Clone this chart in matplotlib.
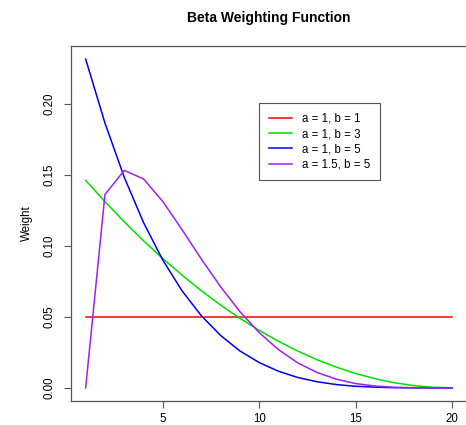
import matplotlib.pyplot as plt
import numpy as np

plt.rcParams['font.family'] = ['Liberation Sans', 'DejaVu Sans']

# lag index 1..20
lags = np.arange(1, 21)

# weights
w_a1_b1 = [0.05] * 20
w_a1_b3 = [0.1462, 0.1312, 0.1170, 0.1036, 0.0911, 0.0794, 0.0684, 0.0583, 0.0490, 0.0405,
           0.0328, 0.0259, 0.0198, 0.0146, 0.0101, 0.0065, 0.0036, 0.0016, 0.0004, 0.0]
w_a1_b5 = [0.2316, 0.1866, 0.1484, 0.1165, 0.0900, 0.0683, 0.0508, 0.0369, 0.0260, 0.0178,
           0.0117, 0.0073, 0.0043, 0.0023, 0.0011, 0.0005, 0.0001, 0.0, 0.0, 0.0]
w_a15_b5 = [0.0, 0.1362, 0.1532, 0.1472, 0.1313, 0.1114, 0.0907, 0.0712, 0.0537, 0.0389,
            0.0269, 0.0176, 0.0108, 0.0061, 0.0030, 0.0013, 0.0004, 0.0001, 0.0, 0.0]

labels = ["a = 1, b = 1", "a = 1, b = 3", "a = 1, b = 5", "a = 1.5, b = 5"]
colors = ["#FF0000", "#00E000", "#0000EE", "#A020F0"]
series = [w_a1_b1, w_a1_b3, w_a1_b5, w_a15_b5]

fig = plt.figure(figsize=(4.66, 4.25), dpi=100)
ax = fig.add_axes([0.1524, 0.0565, 0.849, 0.8353])

for w, c, lab in zip(series, colors, labels):
    ax.plot(lags, w, color=c, linewidth=1.1, label=lab)

# R-style 4% padding
ax.set_xlim(1 - 0.76, 20 + 0.76)
ymax = max(w_a1_b5)
ax.set_ylim(-0.04 * ymax, ymax * 1.04)

ax.set_xticks([5, 10, 15, 20])
ax.set_yticks([0.0, 0.05, 0.10, 0.15, 0.20])
ax.set_yticklabels(["0.00", "0.05", "0.10", "0.15", "0.20"], rotation=90, va='center')
ax.tick_params(axis='both', direction='out', length=5, width=0.8, colors='#555555',
               labelsize=8.3, labelcolor='black')
ax.tick_params(axis='y', pad=6)
ax.tick_params(axis='x', pad=3.5)
for s in ax.spines.values():
    s.set_color('#555555')
    s.set_linewidth(0.9)

ax.set_ylabel("Weight", fontsize=8.3, labelpad=8)
fig.text(0.576, 0.957, "Beta Weighting Function", ha='center', va='center',
         fontsize=10, fontweight='bold')

leg = ax.legend(loc='upper left', bbox_to_anchor=(0.475, 0.839), fontsize=8.3,
                fancybox=False, edgecolor='#555555', framealpha=1,
                handlelength=2.0, handletextpad=0.9, labelspacing=0.28,
                borderpad=0.85, borderaxespad=0)
leg.get_frame().set_linewidth(0.8)

fig.savefig("out.png", dpi=100)
